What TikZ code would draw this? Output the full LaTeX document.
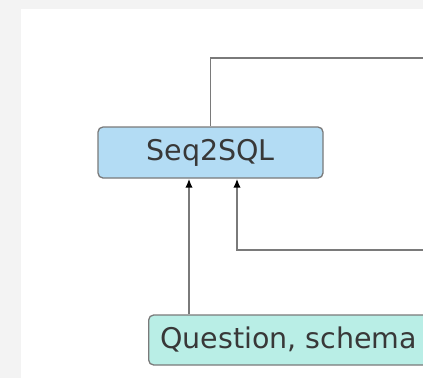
\documentclass[tikz,border=0pt]{standalone}
\usepackage{fontspec}
\setmainfont{DejaVu Sans}
\usetikzlibrary{arrows.meta}
\definecolor{pagegray}{HTML}{F3F3F3}
\definecolor{edgegray}{HTML}{7A7A7A}
\definecolor{modelblue}{HTML}{B3DCF4}
\definecolor{inputcyan}{HTML}{B9EEE6}
\definecolor{inkgray}{HTML}{383838}
\tikzset{
  box/.style={draw=edgegray, line width=1.3pt, rounded corners=5pt,
    text=inkgray, font=\fontsize{28.5}{30}\selectfont, inner ysep=0pt},
  link/.style={draw=edgegray, line width=1.8pt},
  arr/.style={link, -{Latex[length=9pt,width=7.5pt,black]}},
}
\begin{document}
\begin{tikzpicture}[x=1pt,y=-1pt]
  \useasboundingbox (0,0) rectangle (423,378);
  \clip (0,0) rectangle (423,378);
  \fill[pagegray] (0,0) rectangle (423,378);
  \fill[white] (21,9) rectangle (430,380);

  % model and its input
  \node[box, fill=modelblue, minimum width=225pt, minimum height=51pt]
    (seq) at (210.5,152.5) {Seq2SQL};
  \node[box, fill=inputcyan, anchor=west, inner xsep=11.5pt, minimum height=50pt]
    (q) at (148,340) {Question, schema};

  % loose ends leaving to the right
  \coordinate (outTop) at (430,58);
  \coordinate (inBot) at (430,250);

  \draw[link] (seq.north) |- (outTop);
  \draw[arr] ([xshift=41pt]q.north west) -- ([xshift=41pt]q.north west |- seq.south);
  \draw[arr] (inBot) -| ([xshift=26.5pt]seq.south);
\end{tikzpicture}
\end{document}
